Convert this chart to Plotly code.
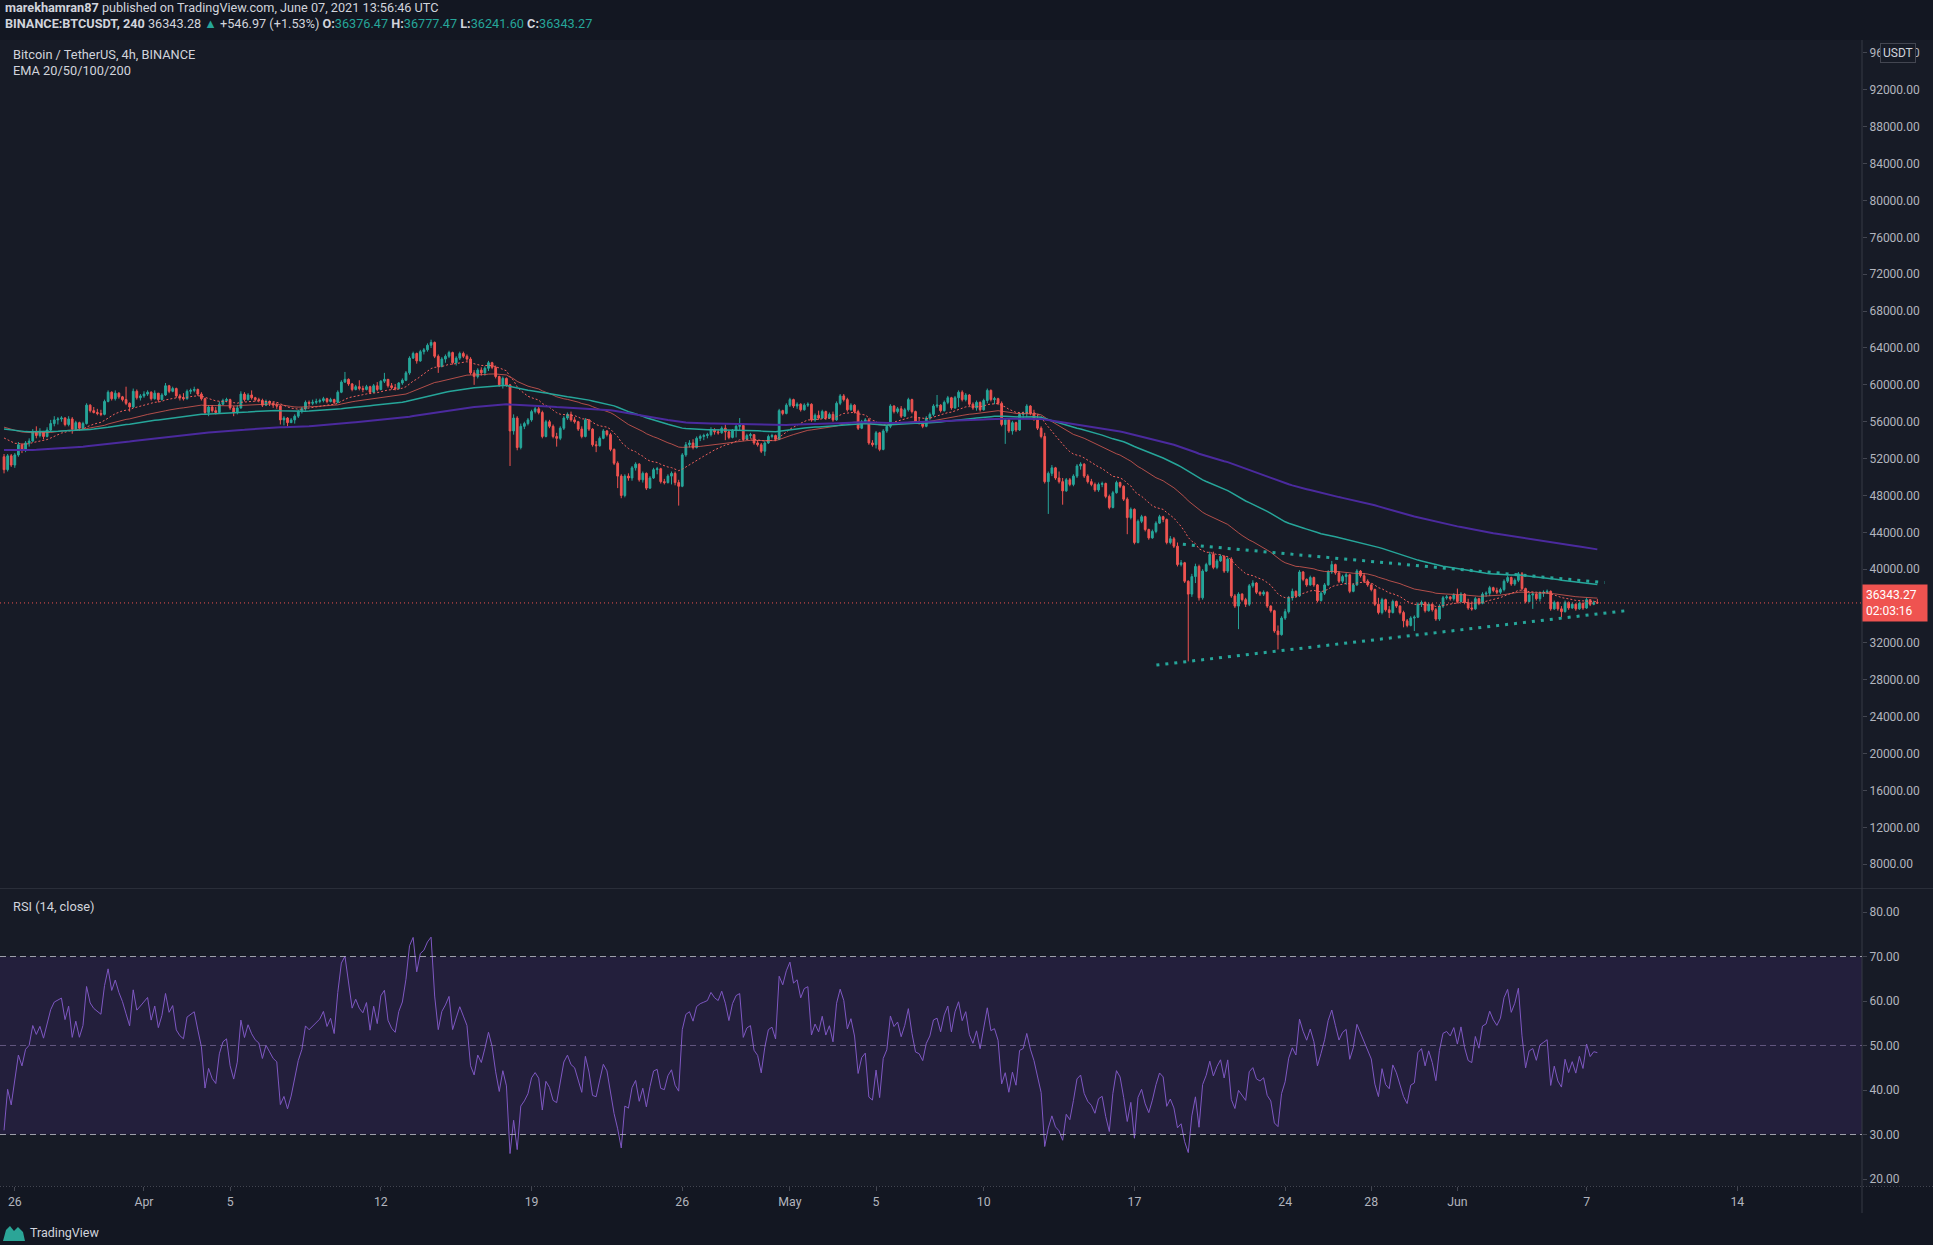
import numpy as np
import pandas as pd
import plotly.graph_objects as go

W, H = 1933, 1245

# ---------------- data (prices in thousand USDT, 4h bars) ----------------
first_open_k = 52.2
close_k = [
    50.8, 52.3, 51.3, 52.4, 53.5, 52.9, 53.7, 53.9, 54.9, 54.5,
    54.9, 54.4, 55.1, 55.8, 56.2, 56.3, 56.4, 55.7, 56.3, 55.2,
    55.9, 55.3, 55.8, 57.8, 57.2, 57.0, 56.9, 56.8, 58.2, 59.2,
    58.5, 59.1, 58.7, 58.4, 58.0, 57.6, 59.3, 58.6, 58.8, 59.0,
    59.2, 58.5, 59.1, 58.4, 58.9, 59.9, 59.3, 59.6, 58.8, 58.6,
    58.5, 59.3, 59.4, 59.5, 59.0, 58.5, 57.0, 57.6, 57.2, 57.0,
    57.9, 58.3, 58.4, 57.5, 57.0, 57.5, 59.0, 58.4, 58.9, 58.6,
    58.4, 58.3, 57.8, 58.2, 58.0, 57.8, 57.7, 56.2, 56.4, 55.9,
    56.2, 56.6, 57.1, 57.4, 58.1, 58.0, 58.1, 58.2, 58.3, 58.5,
    58.2, 58.4, 58.1, 59.2, 60.3, 60.6, 60.1, 59.5, 59.8, 59.6,
    59.5, 59.8, 59.2, 59.9, 59.5, 60.4, 60.6, 59.9, 59.7, 59.6,
    60.2, 60.5, 61.3, 62.9, 63.4, 62.6, 63.6, 63.8, 64.3, 64.6,
    63.1, 62.0, 62.8, 63.1, 63.5, 62.4, 62.9, 63.4, 63.1, 62.8,
    61.3, 60.9, 61.6, 61.3, 61.8, 62.4, 61.9, 60.9, 60.0, 60.7,
    60.0, 55.0, 56.4, 53.2, 55.5, 55.8, 56.2, 57.1, 57.4, 57.0,
    54.4, 56.0, 55.5, 54.4, 54.2, 55.3, 56.4, 56.8, 56.2, 56.0,
    55.2, 54.4, 56.2, 55.2, 53.5, 53.4, 54.2, 55.0, 54.6, 53.0,
    51.5, 50.1, 48.0, 50.1, 49.9, 51.0, 51.4, 49.7, 50.4, 48.8,
    49.9, 50.8, 50.9, 49.5, 49.4, 50.1, 50.4, 49.4, 49.0, 52.4,
    53.5, 53.7, 53.2, 54.2, 54.4, 54.5, 54.6, 55.1, 54.9, 54.8,
    55.3, 54.9, 54.3, 55.1, 55.5, 55.6, 54.1, 54.5, 54.6, 53.7,
    53.5, 52.8, 53.7, 54.4, 54.5, 54.1, 57.2, 56.9, 57.8, 58.4,
    57.7, 57.9, 57.3, 57.8, 57.9, 56.2, 56.7, 56.4, 57.1, 56.4,
    56.8, 56.2, 58.0, 58.8, 58.4, 57.3, 57.8, 57.1, 55.3, 56.0,
    56.2, 53.7, 53.5, 54.8, 53.0, 55.0, 55.5, 57.7, 57.1, 57.4,
    56.6, 57.3, 58.4, 57.1, 56.0, 55.9, 55.5, 56.4, 56.8, 57.7,
    57.8, 57.2, 58.1, 58.6, 57.5, 58.6, 59.2, 58.4, 58.9, 57.9,
    57.5, 58.1, 57.3, 58.3, 59.4, 58.4, 58.5, 58.0, 55.7, 56.2,
    55.0, 55.9, 55.1, 56.8, 56.9, 57.7, 56.9, 56.3, 55.3, 54.4,
    49.5, 50.4, 51.0, 49.9, 49.5, 48.5, 49.7, 49.2, 50.1, 51.2,
    51.4, 50.1, 49.5, 49.2, 48.6, 49.2, 49.3, 47.9, 46.7, 48.3,
    49.4, 49.0, 47.6, 45.6, 46.5, 42.9, 45.2, 45.7, 44.3, 43.4,
    44.1, 45.0, 45.7, 45.4, 42.9, 43.3, 42.5, 40.5, 40.7, 38.7,
    37.3, 39.2, 40.3, 36.9, 39.8, 40.5, 41.6, 40.2, 40.9, 41.4,
    39.8, 41.1, 37.1, 36.0, 37.3, 36.7, 36.2, 38.2, 38.5, 37.5,
    37.3, 37.5, 36.0, 35.5, 33.3, 32.9, 34.7, 35.4, 36.9, 37.6,
    37.1, 39.7, 38.9, 38.3, 39.1, 38.3, 36.6, 37.4, 38.3, 39.7,
    40.5, 39.6, 38.7, 39.2, 39.4, 37.6, 38.3, 39.8, 39.3, 38.7,
    38.3, 37.8, 36.2, 35.3, 36.7, 35.6, 35.3, 36.5, 36.0, 35.3,
    34.4, 33.9, 34.7, 34.8, 36.2, 36.4, 35.5, 36.2, 35.6, 34.6,
    36.0, 36.9, 37.0, 36.8, 37.2, 36.5, 37.3, 36.4, 35.8, 35.7,
    36.8, 36.3, 37.3, 37.4, 38.0, 37.7, 37.5, 37.8, 38.7, 39.1,
    38.4, 38.8, 39.5, 37.9, 36.5, 37.2, 37.3, 36.8, 37.4, 37.5,
    37.6, 35.7, 36.4, 35.7, 35.4, 36.4, 35.8, 36.2, 35.7, 36.3,
    35.796, 36.7, 36.2, 36.376, 36.343,
]
high_k = [
    52.5, 52.5, 52.5, 52.6, 53.8, 53.7, 53.9, 54.2, 55.2, 55.5,
    55.3, 55.0, 55.4, 56.2, 56.6, 56.5, 56.6, 56.5, 56.6, 56.5,
    56.1, 56.0, 56.0, 58.0, 57.9, 57.6, 57.4, 57.3, 58.4, 59.4,
    59.3, 59.4, 59.2, 58.8, 59.8, 58.1, 59.6, 59.5, 59.0, 59.3,
    59.4, 59.3, 59.4, 59.1, 59.1, 60.2, 60.0, 59.8, 59.7, 59.0,
    59.1, 59.5, 59.6, 59.8, 59.6, 59.2, 58.6, 57.8, 57.8, 57.6,
    58.2, 58.5, 58.6, 58.5, 57.7, 57.8, 59.3, 59.2, 59.1, 59.4,
    58.7, 58.6, 58.5, 58.4, 58.3, 58.2, 58.1, 57.8, 56.6, 56.5,
    56.4, 56.8, 57.3, 57.6, 58.3, 58.3, 58.4, 58.5, 58.5, 58.7,
    58.6, 58.6, 58.5, 59.4, 60.5, 61.4, 60.7, 60.2, 60.0, 60.5,
    59.9, 60.0, 59.9, 60.1, 60.3, 60.5, 61.3, 60.6, 60.2, 60.1,
    60.3, 60.7, 61.5, 63.1, 63.6, 63.5, 63.8, 64.0, 64.5, 64.9,
    64.7, 63.3, 63.0, 63.3, 63.7, 63.6, 63.1, 63.6, 63.6, 63.3,
    63.0, 61.6, 61.8, 61.9, 62.0, 62.6, 62.5, 62.1, 61.0, 60.9,
    60.8, 60.1, 56.8, 56.6, 55.8, 56.0, 56.4, 57.3, 57.6, 57.6,
    57.2, 56.2, 56.2, 55.7, 54.8, 55.5, 56.6, 57.0, 57.1, 56.5,
    56.1, 55.5, 56.4, 56.3, 55.3, 53.9, 54.4, 55.2, 55.1, 54.8,
    53.1, 51.7, 50.3, 50.3, 50.4, 51.2, 51.6, 51.5, 50.6, 50.5,
    50.1, 51.0, 51.1, 51.0, 49.8, 50.3, 50.6, 50.6, 49.7, 52.6,
    53.8, 54.0, 54.1, 54.4, 54.6, 54.7, 54.8, 55.4, 55.3, 55.2,
    55.5, 55.7, 55.0, 55.2, 55.7, 56.4, 55.8, 54.7, 54.8, 54.6,
    54.0, 53.7, 53.9, 54.6, 54.7, 54.6, 57.4, 57.3, 58.0, 58.6,
    58.5, 58.1, 58.0, 58.0, 58.1, 58.0, 56.9, 57.2, 57.3, 57.2,
    57.0, 57.1, 58.2, 59.0, 59.0, 58.6, 58.0, 57.9, 57.3, 56.2,
    56.4, 56.4, 54.0, 55.0, 54.9, 55.2, 55.7, 57.9, 57.8, 57.6,
    57.7, 57.5, 58.6, 58.5, 57.2, 56.5, 56.0, 56.6, 57.0, 57.9,
    58.9, 57.9, 58.3, 58.8, 58.7, 58.8, 59.4, 59.4, 59.1, 59.0,
    58.1, 58.3, 58.2, 58.5, 59.6, 59.5, 58.7, 58.6, 58.2, 56.4,
    56.3, 56.1, 56.0, 57.0, 57.1, 57.9, 57.8, 57.3, 56.8, 55.5,
    54.8, 50.6, 51.3, 51.1, 50.6, 49.9, 49.9, 49.9, 50.3, 51.4,
    51.6, 51.5, 50.3, 49.8, 49.4, 49.4, 49.5, 49.4, 48.1, 48.5,
    49.6, 49.5, 49.1, 47.8, 46.7, 46.6, 45.4, 45.9, 45.8, 44.4,
    44.3, 45.2, 45.9, 45.8, 45.5, 43.6, 43.5, 42.9, 41.0, 40.8,
    38.8, 39.5, 40.6, 40.5, 40.0, 40.7, 41.9, 41.9, 41.1, 41.6,
    41.5, 41.3, 41.3, 37.3, 37.5, 37.4, 36.9, 38.4, 38.8, 38.6,
    37.6, 37.7, 37.6, 36.1, 35.6, 33.9, 34.9, 35.7, 37.1, 37.9,
    37.7, 39.9, 39.8, 39.0, 39.3, 39.2, 38.4, 37.6, 38.5, 39.9,
    40.9, 40.6, 39.8, 39.4, 39.6, 39.5, 38.5, 40.0, 39.9, 39.6,
    38.9, 38.5, 37.9, 36.9, 36.9, 36.8, 36.0, 36.7, 36.6, 36.1,
    35.5, 34.6, 34.9, 35.0, 36.4, 36.6, 36.5, 36.4, 36.3, 35.8,
    36.2, 37.1, 37.2, 37.1, 37.4, 37.9, 37.5, 37.4, 36.8, 36.5,
    37.0, 36.9, 37.5, 37.6, 38.2, 38.1, 38.0, 38.0, 38.9, 39.3,
    39.2, 39.0, 39.7, 39.7, 38.0, 37.4, 37.5, 37.4, 37.6, 37.7,
    37.8, 37.7, 36.6, 36.5, 36.0, 36.6, 36.5, 36.4, 36.3, 36.5,
    36.4, 36.9, 36.7, 36.6, 36.777,
]
low_k = [
    50.4, 50.6, 51.1, 51.0, 52.2, 52.6, 52.7, 53.3, 53.8, 54.2,
    54.3, 54.1, 54.3, 55.0, 55.5, 55.7, 56.0, 55.5, 55.5, 54.7,
    55.0, 55.0, 55.1, 55.7, 57.0, 56.9, 56.7, 56.6, 56.7, 58.1,
    58.3, 58.3, 58.5, 58.2, 57.8, 57.1, 57.5, 58.4, 58.3, 58.6,
    58.8, 58.3, 58.4, 58.1, 58.3, 58.8, 59.1, 59.2, 58.6, 58.3,
    58.3, 58.4, 59.0, 59.2, 58.8, 58.3, 56.8, 56.6, 57.0, 56.8,
    56.9, 57.8, 58.1, 57.3, 56.6, 56.8, 57.4, 58.2, 58.3, 58.4,
    58.2, 58.1, 57.6, 57.7, 57.7, 57.5, 57.4, 55.7, 55.6, 55.5,
    55.9, 55.8, 56.4, 56.9, 57.2, 57.7, 57.8, 57.9, 58.0, 58.1,
    58.0, 58.1, 57.9, 58.0, 59.1, 60.2, 59.9, 59.3, 59.4, 59.4,
    59.2, 59.4, 59.0, 59.1, 59.3, 59.4, 60.2, 59.7, 59.5, 59.4,
    59.5, 60.0, 60.4, 61.1, 62.8, 62.3, 62.5, 63.3, 63.6, 64.0,
    62.9, 61.3, 61.9, 62.4, 62.9, 62.2, 62.1, 62.7, 62.9, 62.6,
    61.1, 60.0, 60.7, 61.0, 61.0, 61.5, 61.7, 60.7, 59.8, 59.6,
    59.8, 51.2, 54.6, 52.9, 53.0, 55.2, 55.6, 56.0, 56.9, 56.8,
    54.2, 54.3, 55.3, 54.2, 53.3, 54.0, 55.1, 56.2, 56.0, 55.8,
    55.0, 54.2, 54.3, 55.0, 53.3, 52.7, 53.3, 54.1, 54.4, 52.8,
    51.3, 48.8, 47.7, 47.8, 49.6, 49.6, 50.7, 49.5, 49.4, 48.6,
    48.7, 49.8, 50.3, 49.3, 49.2, 49.3, 49.2, 49.1, 46.9, 48.9,
    52.2, 53.2, 53.0, 53.1, 53.9, 54.0, 54.2, 54.4, 54.6, 54.6,
    54.7, 54.0, 54.1, 54.2, 54.3, 55.0, 53.9, 54.0, 54.2, 53.5,
    53.3, 52.6, 52.3, 53.6, 54.2, 53.9, 54.0, 56.7, 56.8, 57.6,
    57.5, 57.4, 57.1, 57.2, 57.6, 56.0, 56.0, 56.2, 56.3, 56.2,
    56.3, 56.0, 56.1, 57.8, 58.2, 57.1, 57.2, 56.9, 55.1, 55.2,
    55.8, 53.5, 53.3, 53.1, 52.8, 52.9, 54.8, 55.3, 56.9, 56.9,
    56.4, 56.5, 57.1, 56.9, 55.8, 55.7, 55.3, 55.4, 56.2, 56.6,
    57.5, 57.0, 57.1, 57.9, 57.3, 57.4, 57.6, 58.2, 58.2, 57.7,
    57.3, 57.2, 57.1, 57.2, 58.0, 58.2, 57.9, 57.8, 55.5, 53.6,
    54.8, 54.6, 54.9, 55.0, 56.3, 56.5, 56.7, 56.1, 55.1, 54.2,
    49.3, 46.0, 50.1, 49.7, 49.3, 47.0, 48.4, 49.0, 49.0, 49.9,
    50.8, 49.9, 49.3, 49.0, 48.4, 48.4, 48.9, 47.7, 46.5, 46.6,
    48.2, 48.8, 47.4, 43.8, 45.4, 42.7, 42.8, 45.0, 44.1, 43.2,
    43.3, 43.9, 44.9, 45.1, 42.7, 42.7, 42.3, 40.3, 40.3, 38.5,
    30.0, 37.0, 38.5, 36.6, 36.7, 39.7, 40.4, 40.0, 40.0, 40.8,
    39.6, 39.6, 36.9, 35.8, 33.5, 36.5, 35.9, 36.0, 38.0, 37.3,
    37.1, 37.1, 35.8, 35.3, 33.1, 31.3, 32.8, 34.5, 35.2, 36.6,
    36.9, 37.0, 38.7, 38.1, 38.2, 38.1, 36.4, 36.5, 37.2, 38.2,
    39.5, 39.4, 38.5, 38.5, 38.3, 37.4, 37.5, 38.2, 39.1, 38.5,
    38.1, 37.6, 36.0, 35.1, 35.1, 35.4, 34.7, 35.2, 35.8, 35.1,
    33.7, 33.7, 33.8, 33.3, 34.7, 35.9, 35.3, 35.4, 35.4, 34.4,
    34.4, 35.8, 36.7, 36.6, 36.6, 36.3, 36.4, 36.2, 35.6, 35.5,
    35.6, 36.1, 36.2, 37.0, 37.1, 37.5, 37.3, 37.3, 37.6, 38.5,
    38.2, 38.2, 38.6, 37.7, 36.3, 36.4, 35.7, 36.6, 36.5, 37.0,
    37.3, 35.5, 35.6, 35.5, 34.8, 35.3, 35.6, 35.7, 35.5, 35.6,
    35.6, 35.7, 36.0, 36.1, 36.242,
]
bar_start = "2021-03-25 12:00"
bar_freq = "4h"

ema_periods = [20, 50, 100, 200]
ema_start_k = [54.6, 55.6, 55.3, 52.95]      # EMA levels read at the left edge
rsi_period = 14
rsi_start_gain_k, rsi_start_loss_k = 0.25, 0.45

tri_upper_time = ["2021-05-19 06:00", "2021-06-07 20:00"]
tri_upper_price = [42700, 38550]
tri_lower_time = ["2021-05-18 00:30", "2021-06-09 00:00"]
tri_lower_price = [29600, 35550]

last_price = 36343.27
countdown = "02:03:16"

# 36000 sits under the last-price label in the reference, so it is not shown
price_ticks = [8000, 12000, 16000, 20000, 24000, 28000, 32000, 40000, 44000, 48000,
               52000, 56000, 60000, 64000, 68000, 72000, 76000, 80000, 84000, 88000,
               92000, 96000]
rsi_ticks = [20, 30, 40, 50, 60, 70, 80]
rsi_levels = [30, 50, 70]
time_tick_dates = ["2021-03-26", "2021-04-01", "2021-04-05", "2021-04-12", "2021-04-19",
                   "2021-04-26", "2021-05-01", "2021-05-05", "2021-05-10", "2021-05-17",
                   "2021-05-24", "2021-05-28", "2021-06-01", "2021-06-07", "2021-06-14"]
time_tick_text = ["26", "Apr", "5", "12", "19", "26", "May", "5", "10", "17",
                  "24", "28", "Jun", "7", "14"]

# ---------------- derived series ----------------
close = np.array(close_k) * 1000
high = np.array(high_k) * 1000
low = np.array(low_k) * 1000
open_ = np.concatenate([[first_open_k * 1000], close[:-1]])
times = pd.date_range(bar_start, periods=len(close), freq=bar_freq)


def ema(values, period, start):
    a = 2.0 / (period + 1)
    out, e = [], start
    for v in values:
        e = a * v + (1 - a) * e
        out.append(e)
    return np.array(out)


emas = [ema(close, p, s * 1000) for p, s in zip(ema_periods, ema_start_k)]

chg = np.diff(np.concatenate([[open_[0]], close]))
ag, al = rsi_start_gain_k * 1000, rsi_start_loss_k * 1000
rsi = []
for d in chg:
    ag = (ag * (rsi_period - 1) + max(d, 0)) / rsi_period
    al = (al * (rsi_period - 1) + max(-d, 0)) / rsi_period
    rsi.append(100 - 100 / (1 + ag / al) if al > 0 else 100)
rsi = np.array(rsi)

# ---------------- styling ----------------
BG = "#131722"
PANE = "#171B26"
UP = "#26A69A"
DOWN = "#EF5350"
TXT = "#D1D4DC"
AXT = "#B2B5BE"
FONT = "Roboto"

XR = ["2021-03-25 07:30", "2021-06-19 19:00"]
XD = [0, 1862 / W]


def fx(px):
    return px / W


def fy(py):
    return 1 - py / H


fig = go.Figure()

fig.add_trace(go.Candlestick(
    x=times, open=open_, high=high, low=low, close=close,
    increasing=dict(line=dict(color=UP, width=1), fillcolor=UP),
    decreasing=dict(line=dict(color=DOWN, width=1), fillcolor=DOWN),
    whiskerwidth=0, hoverinfo="skip", xaxis="x", yaxis="y"))

ema_styles = [
    dict(color="#F0605C", width=1, dash="2px,2px"),
    dict(color="rgba(230,95,85,0.75)", width=1),
    dict(color="#26A69A", width=1.5),
    dict(color="#4B2A9E", width=2),
]
for s, st in zip(emas, ema_styles):
    fig.add_trace(go.Scatter(x=times, y=s, mode="lines", line=st,
                             hoverinfo="skip", xaxis="x", yaxis="y"))

for tt, pp in [(tri_upper_time, tri_upper_price), (tri_lower_time, tri_lower_price)]:
    fig.add_trace(go.Scatter(x=pd.to_datetime(tt), y=pp, mode="lines",
                             line=dict(color="#26A69A", width=3, dash="3px,6px"),
                             hoverinfo="skip", xaxis="x", yaxis="y"))

fig.add_trace(go.Scatter(x=times, y=rsi, mode="lines",
                         line=dict(color="#7E57C2", width=1),
                         hoverinfo="skip", xaxis="x2", yaxis="y2"))

shapes = [
    dict(type="rect", xref="paper", yref="paper", x0=0, x1=1, y0=fy(1186), y1=fy(40),
         fillcolor=PANE, line=dict(width=0), layer="below"),
    dict(type="rect", xref="x2 domain", yref="y2", x0=0, x1=1, y0=30, y1=70,
         fillcolor="rgba(110,60,190,0.15)", line=dict(width=0), layer="below"),
    dict(type="line", xref="x domain", yref="y", x0=0, x1=1, y0=last_price, y1=last_price,
         line=dict(color=DOWN, width=1, dash="1px,3px")),
    dict(type="line", xref="paper", yref="paper", x0=0, x1=1, y0=fy(888.5), y1=fy(888.5),
         line=dict(color="#2A2E39", width=1)),
    dict(type="line", xref="paper", yref="paper", x0=0, x1=1, y0=fy(1186.5), y1=fy(1186.5),
         line=dict(color="#434651", width=1, dash="1px,2px")),
    dict(type="line", xref="paper", yref="paper", x0=fx(1862), x1=fx(1862), y0=fy(1213), y1=fy(40),
         line=dict(color="#363A45", width=1)),
]
for lv in rsi_levels:
    col = "rgba(190,193,200,0.8)" if lv != 50 else "rgba(149,130,180,0.55)"
    shapes.append(dict(type="line", xref="x2 domain", yref="y2", x0=0, x1=1, y0=lv, y1=lv,
                       line=dict(color=col, width=1, dash="6px,4px")))

logo = [(3, 1241), (6, 1230), (10, 1226), (14, 1231), (18, 1227), (23, 1232), (25, 1241)]
path = "M " + " L ".join(f"{fx(a):.5f},{fy(b):.5f}" for a, b in logo) + " Z"
shapes.append(dict(type="path", xref="paper", yref="paper", path=path,
                   fillcolor="#2BA597", line=dict(width=0)))

teal = "<span style='color:#26A69A'>"
ann = [
    dict(x=fx(3), y=fy(7), text="<b>marekhamran87</b> published on TradingView.com, June 07, 2021 13:56:46 UTC",
         font=dict(family=FONT, size=12.7, color=TXT)),
    dict(x=fx(3), y=fy(23), text=("<b>BINANCE:BTCUSDT, 240</b> 36343.28 " + teal + "▲</span> +546.97 (+1.53%) "
                                  "<b>O:</b>" + teal + "36376.47</span> <b>H:</b>" + teal + "36777.47</span> "
                                  "<b>L:</b>" + teal + "36241.60</span> <b>C:</b>" + teal + "36343.27</span>"),
         font=dict(family=FONT, size=12.7, color=TXT)),
    dict(x=fx(11), y=fy(54), text="Bitcoin / TetherUS, 4h, BINANCE"),
    dict(x=fx(11), y=fy(70), text="EMA 20/50/100/200"),
    dict(x=fx(11), y=fy(906), text="RSI (14, close)"),
    dict(x=fx(28), y=fy(1232), text="TradingView", font=dict(family=FONT, size=12.5, color=TXT)),
]
annotations = []
for a in ann:
    d = dict(xref="paper", yref="paper", xanchor="left", yanchor="middle", showarrow=False,
             font=dict(family=FONT, size=12.8, color=TXT))
    d.update(a)
    annotations.append(d)

annotations.append(dict(xref="paper", yref="paper", x=fx(1898), y=fy(53), xanchor="center",
                        yanchor="middle", showarrow=False, text="USDT",
                        font=dict(family=FONT, size=12, color=TXT), bgcolor=PANE,
                        bordercolor="#434651", borderwidth=1, borderpad=2))
annotations.append(dict(xref="paper", yref="y", x=fx(1862), y=last_price, xanchor="left",
                        yanchor="middle", showarrow=False,
                        text=f"{last_price:.2f}<br>{countdown}", align="left",
                        font=dict(family=FONT, size=12, color="#FFFFFF"),
                        bgcolor=DOWN, borderpad=3, width=58))

fig.update_layout(
    width=W, height=H, margin=dict(l=0, r=0, t=0, b=0),
    paper_bgcolor=BG, plot_bgcolor="rgba(0,0,0,0)", showlegend=False,
    font=dict(family=FONT, size=12, color=AXT),
    shapes=shapes, annotations=annotations,
    xaxis=dict(domain=XD, range=XR, type="date", anchor="y", showticklabels=False,
               showgrid=False, zeroline=False, showline=False, ticks="",
               rangeslider=dict(visible=False)),
    xaxis2=dict(domain=XD, range=XR, type="date", anchor="y2", showgrid=False,
                zeroline=False, showline=False, ticks="outside", ticklen=4,
                tickcolor="#434651", tickvals=pd.to_datetime(time_tick_dates),
                ticktext=time_tick_text, tickfont=dict(family=FONT, size=12.3, color=AXT)),
    yaxis=dict(domain=[fy(888), fy(40)], range=[5421, 97409], side="right", anchor="x",
               tickvals=price_ticks, tickformat=".2f", ticks="outside", ticklen=4,
               tickcolor="#434651", showgrid=False, zeroline=False, showline=False,
               tickfont=dict(family=FONT, size=12, color=AXT)),
    yaxis2=dict(domain=[fy(1186), fy(889)], range=[18.43, 85.17], side="right", anchor="x2",
                tickvals=rsi_ticks, tickformat=".2f", ticks="outside", ticklen=4,
                tickcolor="#434651", showgrid=False, zeroline=False, showline=False,
                tickfont=dict(family=FONT, size=12, color=AXT)),
)

fig.write_html("out.html",
               config={"displayModeBar": False, "staticPlot": True},
               post_script="document.body.style.margin='0';"
                           "document.body.style.background='#131722';"
                           "document.documentElement.style.background='#131722';")
